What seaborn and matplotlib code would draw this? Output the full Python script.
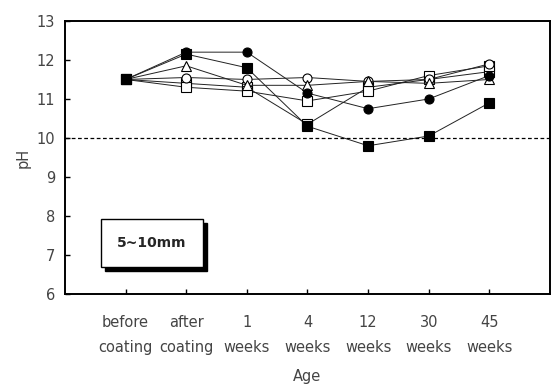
import matplotlib
matplotlib.use('Agg')
import matplotlib.pyplot as plt
import numpy as np
import pandas as pd
import seaborn as sns
from matplotlib.patches import Rectangle

AGES = ['before\ncoating', 'after\ncoating', '1\nweeks', '4\nweeks',
        '12\nweeks', '30\nweeks', '45\nweeks']

# pH readings per specimen series
PH_FILLED_CIRCLE = [11.5, 12.2, 12.2, 11.15, 10.75, 11.0, 11.6]
PH_FILLED_SQUARE = [11.5, 12.15, 11.8, 10.3, 9.8, 10.05, 10.9]
PH_OPEN_TRIANGLE = [11.5, 11.85, 11.35, 11.35, 11.45, 11.4, 11.5]
PH_OPEN_CIRCLE = [11.5, 11.55, 11.5, 11.55, 11.45, 11.5, 11.9]
PH_OPEN_SQUARE = [11.5, 11.3, 11.2, 10.95, 11.2, 11.6, 11.85]
PH_OPEN_SQUARE_2 = [11.5, 11.4, 11.3, 10.35, 11.3, 11.5, 11.7]

LIMIT_PH = 10
BOX_LABEL = '5~10mm'


def main():
    sns.set_style('ticks')
    plt.rcParams['font.family'] = ['DejaVu Sans']

    fig = plt.figure(figsize=(5.53, 3.88), dpi=100)
    ax = fig.add_axes([0.1175, 0.2423, 0.877, 0.7037])

    series = [
        (PH_OPEN_SQUARE_2, 's', 'white'),
        (PH_OPEN_SQUARE, 's', 'white'),
        (PH_OPEN_CIRCLE, 'o', 'white'),
        (PH_OPEN_TRIANGLE, '^', 'white'),
        (PH_FILLED_SQUARE, 's', 'black'),
        (PH_FILLED_CIRCLE, 'o', 'black'),
    ]
    pos = np.arange(1, len(AGES) + 1)
    for vals, mk, fc in series:
        df = pd.DataFrame({'pos': pos, 'pH': vals})
        sns.lineplot(data=df, x='pos', y='pH', ax=ax, color='#222222',
                     linewidth=0.7, marker=mk, markersize=6.5,
                     markerfacecolor=fc, markeredgecolor='black',
                     markeredgewidth=0.8, legend=False)

    ax.axhline(LIMIT_PH, color='black', linestyle=(0, (3, 2)), linewidth=0.9)

    ax.set_xlim(0, 8)
    ax.set_ylim(6, 13)
    ax.set_yticks(range(6, 14))
    ax.set_xticks(pos)
    ax.set_xticklabels(AGES, fontsize=10.5, linespacing=1.85)
    ax.tick_params(axis='both', direction='in', length=3.5, width=1,
                   labelsize=10.5, colors='black', labelcolor='#444444')
    ax.tick_params(axis='x', pad=15)
    ax.tick_params(axis='y', pad=7)
    for sp in ax.spines.values():
        sp.set_linewidth(1.4)
        sp.set_color('black')

    ax.set_xlabel('Age', fontsize=10.5, labelpad=10, color='#444444')
    ax.set_ylabel('pH', fontsize=10.5, labelpad=4, color='#444444')

    # label box with shadow
    ax.add_patch(Rectangle((0.665, 6.6), 1.67, 1.22, facecolor='black',
                           edgecolor='black', zorder=4))
    ax.add_patch(Rectangle((0.6, 6.7), 1.67, 1.22, facecolor='white',
                           edgecolor='black', linewidth=1, zorder=5))
    ax.text(1.43, 7.31, BOX_LABEL, ha='center', va='center', fontsize=10,
            fontweight='bold', zorder=6)

    fig.savefig('out.png', dpi=100)


if __name__ == '__main__':
    main()
